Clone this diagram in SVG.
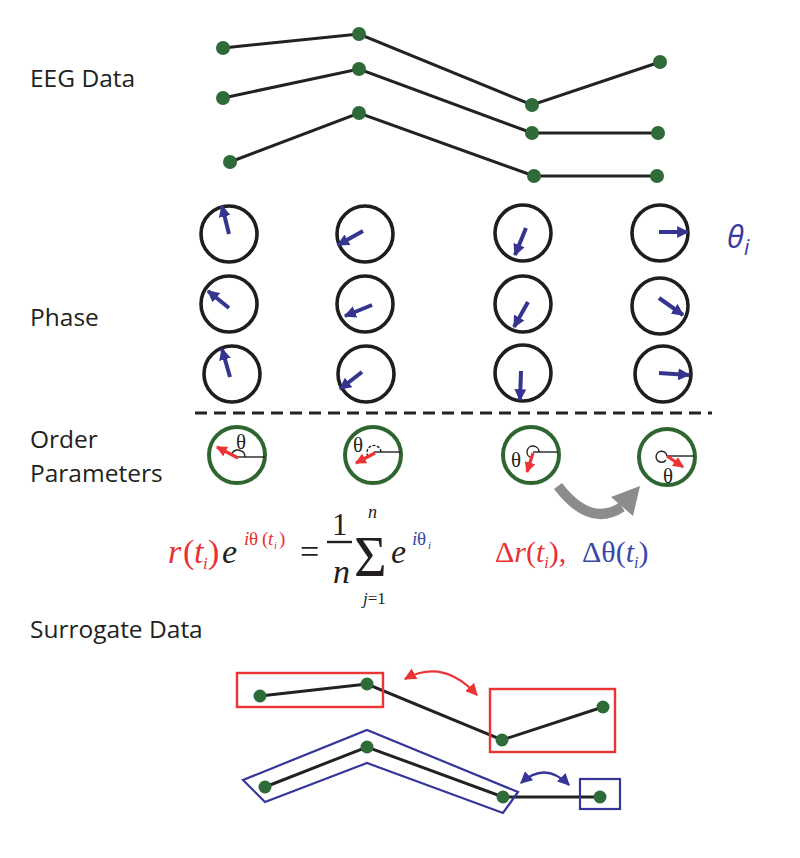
<svg xmlns="http://www.w3.org/2000/svg" width="800" height="858" viewBox="0 0 800 858">
<defs>
<marker id="bh" viewBox="0 0 10 10" refX="9" refY="5" markerWidth="3" markerHeight="3" orient="auto" markerUnits="strokeWidth"><path d="M0,0 L10,5 L0,10 Z" fill="#35358f"/></marker>
<marker id="rh" viewBox="0 0 10 10" refX="9" refY="5" markerWidth="3.4" markerHeight="3.4" orient="auto" markerUnits="strokeWidth"><path d="M0,0 L10,5 L0,10 Z" fill="#ec3434"/></marker>
<marker id="rh2" viewBox="0 0 10 10" refX="9" refY="5" markerWidth="5.5" markerHeight="5.5" orient="auto-start-reverse" markerUnits="strokeWidth"><path d="M0,0 L10,5 L0,10 Z" fill="#ec3434"/></marker>
<marker id="bh2" viewBox="0 0 10 10" refX="9" refY="5" markerWidth="5.5" markerHeight="5.5" orient="auto-start-reverse" markerUnits="strokeWidth"><path d="M0,0 L10,5 L0,10 Z" fill="#35359a"/></marker>
</defs>
<style>
.lbl{font-family:"Open Sans","Liberation Sans",sans-serif;font-size:24.5px;fill:#231f20}
.ln{stroke:#222;stroke-width:3;fill:none}
.dot{fill:#2e6b38}
.pc{fill:none;stroke:#1e1e1e;stroke-width:3.6}
.pa{stroke:#35358f;stroke-width:4;marker-end:url(#bh)}
.oc{fill:none;stroke:#2f6630;stroke-width:4}
.oa{stroke:#ec3434;stroke-width:3.2;marker-end:url(#rh)}
.thin{stroke:#222;stroke-width:1.4;fill:none}
.m{font-family:"Liberation Serif","Times New Roman",serif}
.it{font-style:italic}
.red{fill:#e83232}
.blu{fill:#3a47a8}
.blk{fill:#231f20}
</style>
<rect width="800" height="858" fill="#fff"/>

<g id="labels">
<text class="lbl" x="30" y="87">EEG Data</text>
<text class="lbl" x="30" y="326">Phase</text>
<text class="lbl" x="30" y="448">Order</text>
<text class="lbl" x="30" y="482">Parameters</text>
<text class="lbl" x="30" y="638">Surrogate Data</text>
<text x="727" y="248" font-family="'Open Sans','Liberation Sans',sans-serif" font-style="italic" font-size="31" fill="#3a3aa0">θ<tspan font-size="21" dy="7">i</tspan></text>
</g>

<g id="connectors">
<polyline class="ln" points="223,48 359,34 532,105 660,62"/>
<polyline class="ln" points="223,98 359,69 532,133 658,133"/>
<polyline class="ln" points="230,162 359,113 534,176 657,176"/>
<line x1="195" y1="413" x2="712" y2="413" stroke="#222" stroke-width="3.2" stroke-dasharray="12,7"/>
<path d="M558,486 Q590,528 622,507" fill="none" stroke="#8c8c8c" stroke-width="10"/>
<polygon points="640,486 611,497 633,516" fill="#8c8c8c"/>
<polyline class="ln" points="260,696 367,684 502,740 603,707"/>
<polyline class="ln" points="265,787 367,747 503,797 600,797"/>
<path d="M405,679 Q443,658 477,695" fill="none" stroke="#ec3434" stroke-width="2.2" marker-start="url(#rh2)" marker-end="url(#rh2)"/>
<path d="M521,783 Q545,761 569,785" fill="none" stroke="#35359a" stroke-width="2.2" marker-start="url(#bh2)" marker-end="url(#bh2)"/>
</g>

<g id="eeg-dots">
<circle class="dot" cx="223" cy="48" r="7"/><circle class="dot" cx="359" cy="34" r="7"/><circle class="dot" cx="532" cy="105" r="7"/><circle class="dot" cx="660" cy="62" r="7"/>
<circle class="dot" cx="223" cy="98" r="7"/><circle class="dot" cx="359" cy="69" r="7"/><circle class="dot" cx="532" cy="133" r="7"/><circle class="dot" cx="658" cy="133" r="7"/>
<circle class="dot" cx="230" cy="162" r="7"/><circle class="dot" cx="359" cy="113" r="7"/><circle class="dot" cx="534" cy="176" r="7"/><circle class="dot" cx="657" cy="176" r="7"/>
</g>

<g id="phase">
<circle class="pc" cx="229" cy="234" r="28"/><line class="pa" x1="229" y1="234" x2="222" y2="206"/>
<circle class="pc" cx="365" cy="234" r="28"/><line class="pa" x1="363" y1="231" x2="338" y2="245"/>
<circle class="pc" cx="523" cy="233" r="28"/><line class="pa" x1="526" y1="228" x2="515" y2="255"/>
<circle class="pc" cx="660" cy="233" r="28"/><line class="pa" x1="659" y1="232" x2="688" y2="232"/>
<circle class="pc" cx="229" cy="304" r="28"/><line class="pa" x1="229" y1="308" x2="208" y2="291"/>
<circle class="pc" cx="365" cy="304" r="28"/><line class="pa" x1="372" y1="305" x2="345" y2="316"/>
<circle class="pc" cx="523" cy="304" r="28"/><line class="pa" x1="528" y1="302" x2="514" y2="327"/>
<circle class="pc" cx="660" cy="306" r="28"/><line class="pa" x1="659" y1="298" x2="683" y2="315"/>
<circle class="pc" cx="232" cy="374" r="28"/><line class="pa" x1="230" y1="377" x2="222" y2="349"/>
<circle class="pc" cx="366" cy="374" r="28"/><line class="pa" x1="362" y1="372" x2="340" y2="389"/>
<circle class="pc" cx="523" cy="373" r="28"/><line class="pa" x1="521" y1="371" x2="520" y2="400"/>
<circle class="pc" cx="663" cy="374" r="28"/><line class="pa" x1="659" y1="373" x2="689" y2="375"/>
</g>

<g id="order-1">
<circle class="oc" cx="237" cy="455" r="28"/>
<line class="thin" x1="238" y1="457" x2="265" y2="457"/>
<path class="thin" d="M245,457 A7,7 0 0 0 231.7,454"/>
<line class="oa" x1="238" y1="458" x2="217" y2="447"/>
<text class="m blk" x="236" y="449" font-size="21">θ</text>
</g>
<g id="order-2">
<circle class="oc" cx="373" cy="455" r="28"/>
<line class="thin" x1="374" y1="452" x2="401" y2="452"/>
<path class="thin" d="M381,452 A7,7 0 1 0 368,456" stroke-dasharray="3,1.5"/>
<line class="oa" x1="375" y1="453" x2="356" y2="463"/>
<text class="m blk" x="353" y="452" font-size="21">θ</text>
</g>
<g id="order-3">
<circle class="oc" cx="531" cy="455" r="28"/>
<line class="thin" x1="533" y1="452" x2="558" y2="452"/>
<path class="thin" d="M539,452 A6,6 0 1 0 531.4,457.8"/>
<line class="oa" x1="533" y1="453" x2="527" y2="472"/>
<text class="m blk" x="511" y="467" font-size="21">θ</text>
</g>
<g id="order-4">
<circle class="oc" cx="667" cy="457" r="28"/>
<line class="thin" x1="667" y1="456" x2="694" y2="456"/>
<path class="thin" d="M667,456 A5.5,5.5 0 1 0 666,460"/>
<line class="oa" x1="667" y1="456" x2="683" y2="467"/>
<text class="m blk" x="663" y="483" font-size="21">θ</text>
</g>

<g id="formula">
<text class="m it red" x="168" y="563" font-size="34">r</text>
<text class="m red" x="183" y="563" font-size="34">(</text>
<text class="m it red" x="194" y="563" font-size="34">t</text>
<text class="m it red" x="203" y="569" font-size="17">i</text>
<text class="m red" x="208" y="563" font-size="34">)</text>
<text class="m it blk" x="222" y="563" font-size="34">e</text>
<text class="m it red" x="244" y="545" font-size="19">i</text>
<text class="m red" x="249" y="545" font-size="19">θ</text>
<text class="m red" x="262" y="545" font-size="19">(</text>
<text class="m it red" x="268" y="545" font-size="19">t</text>
<text class="m it red" x="274" y="549" font-size="11">i</text>
<text class="m red" x="279" y="545" font-size="19">)</text>
<text class="m blk" x="300" y="563" font-size="34">=</text>
<line x1="327" y1="542" x2="352" y2="542" stroke="#231f20" stroke-width="2.4"/>
<text class="m blk" x="332" y="535" font-size="31">1</text>
<text class="m it blk" x="333" y="583" font-size="34">n</text>
<text class="m blk" x="354" y="576" font-size="56">Σ</text>
<text class="m it blk" x="368" y="518" font-size="18">n</text>
<text class="m blk" x="363" y="604" font-size="17"><tspan font-style="italic">j</tspan>=1</text>
<text class="m it blk" x="391" y="563" font-size="34">e</text>
<text class="m it blu" x="412" y="545" font-size="19">i</text>
<text class="m blu" x="417" y="545" font-size="19">θ</text>
<text class="m it blu" x="428" y="549" font-size="11">i</text>

<text class="m red" x="495" y="562" font-size="30">Δ<tspan font-style="italic">r</tspan>(<tspan font-style="italic">t</tspan><tspan font-style="italic" font-size="16" dy="6">i</tspan><tspan dy="-6">),</tspan></text>
<text class="m blu" x="582" y="562" font-size="30">Δθ(<tspan font-style="italic">t</tspan><tspan font-style="italic" font-size="16" dy="6">i</tspan><tspan dy="-6">)</tspan></text>
</g>

<g id="surrogate-boxes">
<rect x="237" y="673" width="146" height="34" fill="none" stroke="#ec3434" stroke-width="2.4"/>
<rect x="490" y="689" width="125" height="63" fill="none" stroke="#ec3434" stroke-width="2.4"/>
<polygon points="243,780 367,730 518,792 503,813 367,763 265,802" fill="none" stroke="#35359a" stroke-width="2.2"/>
<rect x="580" y="779" width="40" height="30" fill="none" stroke="#35359a" stroke-width="2.2"/>
</g>

<g id="surrogate-dots">
<circle class="dot" cx="260" cy="696" r="6.5"/><circle class="dot" cx="367" cy="684" r="6.5"/><circle class="dot" cx="502" cy="740" r="6.5"/><circle class="dot" cx="603" cy="707" r="6.5"/>
<circle class="dot" cx="265" cy="787" r="6.5"/><circle class="dot" cx="367" cy="747" r="6.5"/><circle class="dot" cx="503" cy="797" r="6.5"/><circle class="dot" cx="600" cy="797" r="6.5"/>
</g>
</svg>
